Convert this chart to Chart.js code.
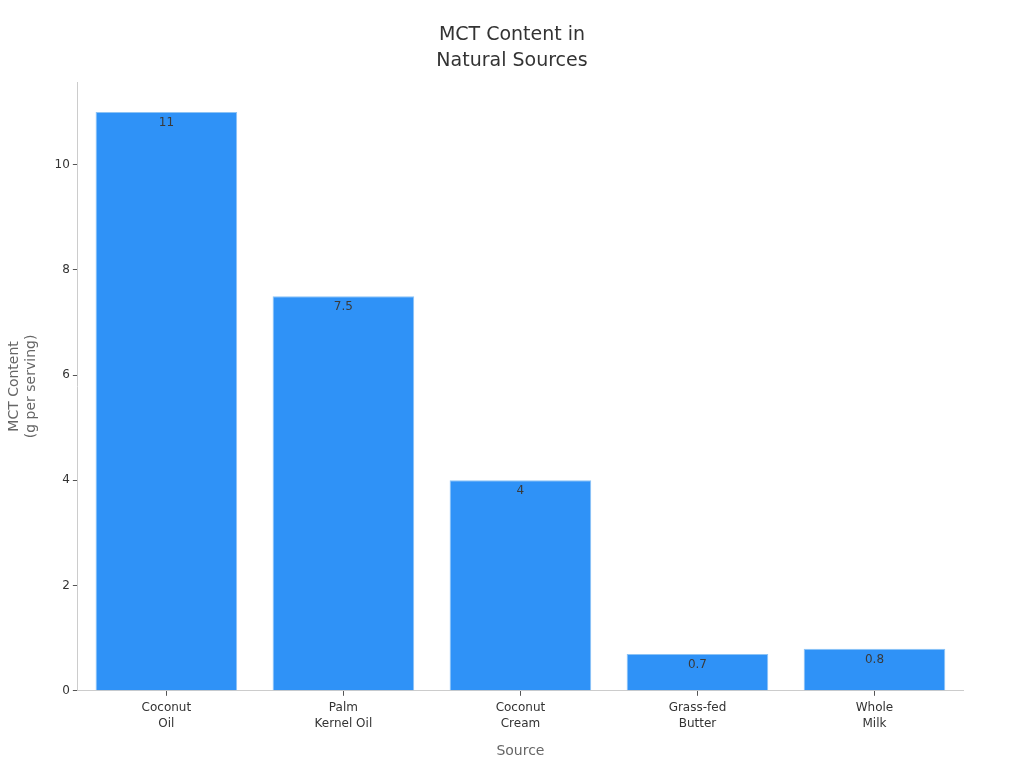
<!DOCTYPE html>
<html><head><meta charset="utf-8">
<script src="https://cdn.jsdelivr.net/npm/chart.js@4"></script>
<style>html,body{margin:0;padding:0;background:#fff}</style>
</head><body>
<canvas id="c" width="1024" height="768"></canvas>
<script>
const categories = [["Coconut","Oil"],["Palm","Kernel Oil"],["Coconut","Cream"],["Grass-fed","Butter"],["Whole","Milk"]];
const values = [11, 7.5, 4, 0.7, 0.8];
const yTicks = [0, 2, 4, 6, 8, 10];

const labelPlugin = {
  id: 'barLabels',
  afterDatasetsDraw(chart) {
    const ctx = chart.ctx;
    const meta = chart.getDatasetMeta(0);
    ctx.save();
    ctx.font = '12px "DejaVu Sans"';
    ctx.fillStyle = '#3a3a3a';
    ctx.textAlign = 'center';
    ctx.textBaseline = 'middle';
    meta.data.forEach((bar, i) => {
      ctx.fillText(String(values[i]), bar.x, bar.y + 11);
    });
    ctx.restore();
  }
};

new Chart(document.getElementById('c'), {
  type: 'bar',
  data: {
    labels: categories,
    datasets: [{
      data: values,
      backgroundColor: '#2F92F7',
      borderColor: '#8CC3F5',
      borderWidth: 1,
      barPercentage: 0.8,
      categoryPercentage: 1
    }]
  },
  options: {
    responsive: false,
    devicePixelRatio: 1,
    animation: false,
    layout: { padding: { left: 0, right: 0, top: 22, bottom: 4 } },
    plugins: {
      legend: { display: false },
      tooltip: { enabled: false },
      title: {
        display: true,
        text: ['MCT Content in', 'Natural Sources'],
        color: '#333',
        font: { family: 'DejaVu Sans', size: 19, weight: 'normal', lineHeight: 1.37 },
        padding: { top: 0, bottom: 8 }
      }
    },
    scales: {
      x: {
        grid: { drawOnChartArea: false, drawTicks: true, tickLength: 5, color: '#555', offset: false },
        border: { color: '#ccc' },
        ticks: { color: '#333', font: { family: 'DejaVu Sans', size: 12, lineHeight: 1.35 }, padding: 4 },
        title: { display: true, text: 'Source', color: '#666', font: { family: 'DejaVu Sans', size: 14 }, padding: { top: 7 } }
      },
      y: {
        min: 0, max: 11.57,
        afterBuildTicks(axis) { axis.ticks = yTicks.map(v => ({ value: v })); },
        grid: { drawOnChartArea: false, drawTicks: true, tickLength: 5, color: '#555' },
        border: { color: '#ccc' },
        ticks: { color: '#333', font: { family: 'DejaVu Sans', size: 12 }, padding: 3 },
        title: { display: true, text: ['MCT Content', '(g per serving)'], color: '#666', font: { family: 'DejaVu Sans', size: 14, lineHeight: 1.2 }, padding: { top: 6, bottom: 12 } }
      },
      yr: {
        position: 'right',
        display: true,
        afterFit(axis) { axis.width = 61; },
        grid: { display: false },
        border: { display: false },
        ticks: { display: false }
      }
    }
  },
  plugins: [labelPlugin]
});
</script>
</body></html>
